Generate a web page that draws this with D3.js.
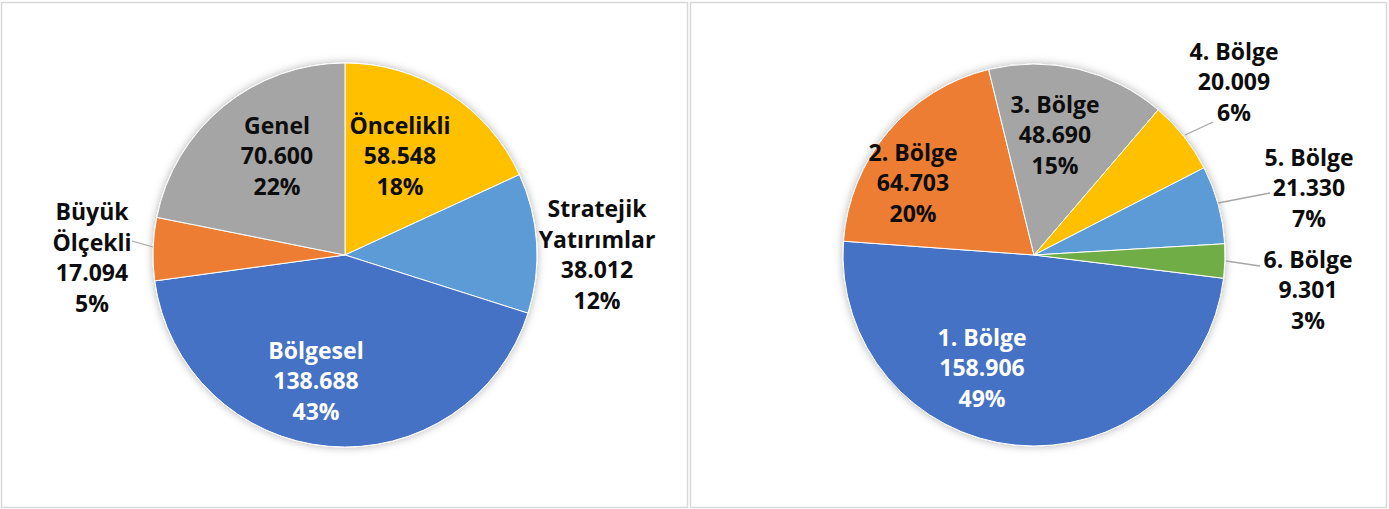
<!DOCTYPE html>
<html>
<head>
<meta charset="utf-8">
<script src="https://cdn.jsdelivr.net/npm/d3@7"></script>
<style>
  body { margin: 0; background: #fff; }
  svg { display: block; }
  text { font-family: "Open Sans", Lato, sans-serif; font-weight: 700; font-size: 23px; }
</style>
</head>
<body>
<svg id="chart" width="1389" height="509"></svg>
<script>
// left pie: support types
var typeNames = ['Öncelikli', 'Stratejik\nYatırımlar', 'Bölgesel', 'Büyük\nÖlçekli', 'Genel'];
var typeValues = [58548, 38012, 138688, 17094, 70600];
var typeColors = ['#FFC000', '#5B9BD5', '#4472C4', '#ED7D31', '#A5A5A5'];

// right pie: regions
var regionNames = ['1. Bölge', '2. Bölge', '3. Bölge', '4. Bölge', '5. Bölge', '6. Bölge'];
var regionValues = [158906, 64703, 48690, 20009, 21330, 9301];
var regionColors = ['#4472C4', '#ED7D31', '#A5A5A5', '#FFC000', '#5B9BD5', '#70AD47'];

// label layout (offset of label centre from pie centre, leader line if any)
var typeLabels = [
  { dx: 55, dy: -99, fill: '#0d0d0d' },
  { dx: 252, dy: 0, fill: '#0d0d0d' },
  { dx: -29, dy: 126, fill: '#fff' },
  { dx: -253, dy: 3, fill: '#0d0d0d', leader: [[-213, -14], [-192, -8]] },
  { dx: -68, dy: -99, fill: '#0d0d0d' }
];
var regionLabels = [
  { dx: -52, dy: 113, fill: '#fff' },
  { dx: -121, dy: -72, fill: '#0d0d0d' },
  { dx: 21, dy: -120, fill: '#0d0d0d' },
  { dx: 200, dy: -173, fill: '#0d0d0d', leader: [[151, -120], [179, -133]] },
  { dx: 275, dy: -67, fill: '#0d0d0d', leader: [[184, -52], [236, -62]] },
  { dx: 274, dy: 35, fill: '#0d0d0d', leader: [[192, 6], [226, 11]] }
];

var svg = d3.select('#chart');
var fmt = d3.formatLocale({ decimal: ',', thousands: '.', grouping: [3], currency: ['', ''] }).format(',d');

// frames
svg.append('rect').attr('x', 1.5).attr('y', 2.5).attr('width', 686).attr('height', 505)
  .attr('fill', 'none').attr('stroke', '#d9d9d9').attr('stroke-width', 1.5);
svg.append('rect').attr('x', 690.5).attr('y', 2.5).attr('width', 696).attr('height', 505)
  .attr('fill', 'none').attr('stroke', '#d9d9d9').attr('stroke-width', 1.5);

var defs = svg.append('defs');
var filt = defs.append('filter').attr('id', 'shadow')
  .attr('x', '-10%').attr('y', '-10%').attr('width', '120%').attr('height', '120%');
filt.append('feDropShadow').attr('dx', 0).attr('dy', 0).attr('stdDeviation', 4)
  .attr('flood-color', '#000').attr('flood-opacity', 0.3);

function drawPie (cx, cy, r, names, values, colors, labels, startAngle) {
  var total = d3.sum(values);
  var pie = d3.pie().sort(null).value(d => d)
    .startAngle(startAngle).endAngle(startAngle + 2 * Math.PI);
  var arc = d3.arc().innerRadius(0).outerRadius(r);
  var g = svg.append('g').attr('transform', `translate(${cx}, ${cy})`);

  g.append('g').attr('filter', 'url(#shadow)')
    .selectAll('path')
    .data(pie(values))
    .enter()
      .append('path')
      .attr('d', arc)
      .attr('fill', (d, i) => colors[i])
      .attr('stroke', '#fff')
      .attr('stroke-width', 1);

  labels.forEach((l, i) => {
    if (l.leader) {
      g.append('polyline')
        .attr('points', l.leader.map(p => p.join(',')).join(' '))
        .attr('fill', 'none').attr('stroke', '#a6a6a6').attr('stroke-width', 1.3);
    }
    var lines = names[i].split('\n')
      .concat([fmt(values[i]), Math.round(values[i] / total * 100) + '%']);
    var lh = 30.5;
    var t = g.append('text')
      .attr('text-anchor', 'middle')
      .attr('fill', l.fill);
    lines.forEach((s, k) => {
      t.append('tspan')
        .attr('x', l.dx)
        .attr('y', l.dy + (k - (lines.length - 1) / 2) * lh + 8)
        .text(s);
    });
  });
}

drawPie(345, 255, 192, typeNames, typeValues, typeColors, typeLabels, 0);
drawPie(1034, 255, 191, regionNames, regionValues, regionColors, regionLabels, 97 * Math.PI / 180);
</script>
</body>
</html>
